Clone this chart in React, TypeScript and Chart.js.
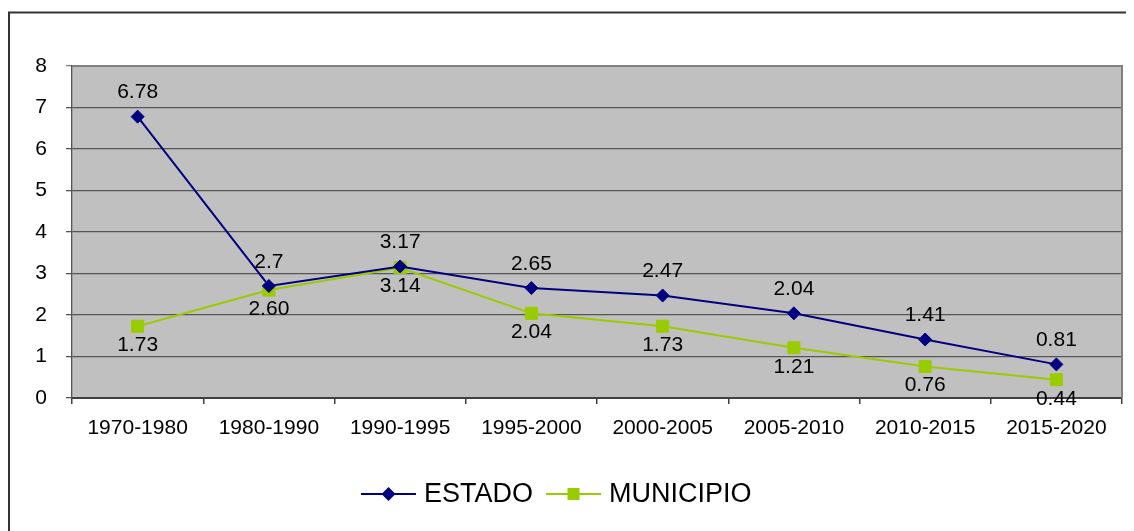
import React, { useEffect, useRef } from 'react';
import { Chart, registerables } from 'chart.js';

Chart.register(...registerables);

const categories = ['1970-1980', '1980-1990', '1990-1995', '1995-2000', '2000-2005', '2005-2010', '2010-2015', '2015-2020'];
const estadoValues = [6.78, 2.7, 3.17, 2.65, 2.47, 2.04, 1.41, 0.81];
const municipioValues = [1.73, 2.6, 3.14, 2.04, 1.73, 1.21, 0.76, 0.44];
const estadoLabels = ['6.78', '2.7', '3.17', '2.65', '2.47', '2.04', '1.41', '0.81'];
const municipioLabels = ['1.73', '2.60', '3.14', '2.04', '1.73', '1.21', '0.76', '0.44'];
const yMin = 0;
const yMax = 8;
const yStep = 1;

const FONT = '"Liberation Sans", Arial, sans-serif';

export default function App() {
  const ref = useRef<HTMLCanvasElement | null>(null);

  useEffect(() => {
    document.body.style.overflow = 'hidden';
    const canvas = ref.current;
    if (!canvas) return;

    const bgPlugin = {
      id: 'bgPlugin',
      beforeDraw(chart: any) {
        const { ctx, chartArea: a } = chart;
        ctx.save();
        ctx.strokeStyle = '#333333';
        ctx.lineWidth = 2;
        ctx.beginPath();
        ctx.moveTo(chart.width, 4.5);
        ctx.lineTo(1, 4.5);
        ctx.lineTo(1, chart.height);
        ctx.stroke();
        ctx.fillStyle = '#C0C0C0';
        ctx.fillRect(a.left, a.top, a.right - a.left, a.bottom - a.top);
        ctx.restore();
      },
      beforeDatasetsDraw(chart: any) {
        const { ctx, chartArea: a } = chart;
        ctx.save();
        ctx.strokeStyle = '#808080';
        ctx.lineWidth = 2;
        ctx.beginPath();
        ctx.moveTo(a.left, a.top);
        ctx.lineTo(a.right, a.top);
        ctx.lineTo(a.right, a.bottom);
        ctx.stroke();
        ctx.restore();
      },
    };

    const labelPlugin = {
      id: 'labelPlugin',
      afterDatasetsDraw(chart: any) {
        const { ctx } = chart;
        ctx.save();
        ctx.font = `21px ${FONT}`;
        ctx.fillStyle = '#000000';
        ctx.textAlign = 'center';
        ctx.textBaseline = 'middle';
        const sets = [
          { labels: estadoLabels, dy: -24 },
          { labels: municipioLabels, dy: 19 },
        ];
        sets.forEach((s, i) => {
          const meta = chart.getDatasetMeta(i);
          meta.data.forEach((pt: any, j: number) => {
            ctx.fillText(s.labels[j], pt.x, pt.y + s.dy);
          });
        });
        ctx.restore();
      },
    };

    const legendPlugin = {
      id: 'legendPlugin',
      afterDraw(chart: any) {
        const { ctx } = chart;
        ctx.save();
        ctx.font = `27px ${FONT}`;
        ctx.textBaseline = 'middle';
        ctx.textAlign = 'left';
        const y = chart.chartArea.bottom + 96;
        let x = 353;
        const lineLen = 55;
        chart.data.datasets.forEach((ds: any) => {
          ctx.strokeStyle = ds.borderColor;
          ctx.lineWidth = 2;
          ctx.beginPath();
          ctx.moveTo(x, y);
          ctx.lineTo(x + lineLen, y);
          ctx.stroke();
          const cx = x + lineLen / 2;
          ctx.fillStyle = ds.pointBackgroundColor;
          ctx.beginPath();
          if (ds.pointStyle === 'rectRot') {
            const r = 7;
            ctx.moveTo(cx, y - r);
            ctx.lineTo(cx + r, y);
            ctx.lineTo(cx, y + r);
            ctx.lineTo(cx - r, y);
            ctx.closePath();
          } else {
            const h = 6;
            ctx.rect(cx - h, y - h, 2 * h, 2 * h);
          }
          ctx.fill();
          ctx.fillStyle = '#000000';
          const tx = x + lineLen + 8;
          ctx.fillText(ds.label, tx, y + 1);
          x = tx + ctx.measureText(ds.label).width + 13;
        });
        ctx.restore();
      },
    };

    const chart = new Chart(canvas, {
      type: 'line',
      data: {
        labels: categories,
        datasets: [
          {
            label: 'ESTADO',
            data: estadoValues,
            borderColor: '#000080',
            backgroundColor: '#000080',
            pointBackgroundColor: '#000080',
            pointBorderColor: '#000080',
            borderWidth: 2,
            pointStyle: 'rectRot',
            pointRadius: 6.5,
            pointBorderWidth: 1,
            tension: 0,
          },
          {
            label: 'MUNICIPIO',
            data: municipioValues,
            borderColor: '#99CC00',
            backgroundColor: '#99CC00',
            pointBackgroundColor: '#99CC00',
            pointBorderColor: '#99CC00',
            borderWidth: 2,
            pointStyle: 'rect',
            pointRadius: 8.5,
            pointBorderWidth: 1,
            tension: 0,
          },
        ],
      },
      options: {
        responsive: false,
        animation: false,
        layout: { padding: { top: 58, left: 0, right: 12, bottom: 93 } },
        plugins: {
          legend: { display: false },
          tooltip: { enabled: false },
          title: { display: false },
        },
        scales: {
          x: {
            offset: true,
            afterFit: (scale: any) => {
              scale.height = 40;
            },
            grid: {
              offset: true,
              drawOnChartArea: false,
              drawTicks: true,
              tickLength: 6,
              color: '#404040',
              lineWidth: 1.5,
            },
            border: { color: '#404040', width: 2 },
            ticks: {
              color: '#000000',
              font: { family: FONT, size: 21 },
              padding: 12,
              maxRotation: 0,
              autoSkip: false,
            },
          },
          y: {
            min: yMin,
            max: yMax,
            afterFit: (scale: any) => {
              scale.width = 64;
            },
            grid: {
              color: (c: any) => (c.tick && c.tick.value === yMax ? '#808080' : '#555555'),
              lineWidth: 1.3,
              tickLength: 6,
              drawTicks: true,
            },
            border: { color: '#555555', width: 1.3 },
            ticks: {
              stepSize: yStep,
              color: '#000000',
              font: { family: FONT, size: 21 },
              padding: 19,
            },
          },
        },
      },
      plugins: [bgPlugin, labelPlugin, legendPlugin],
    });

    return () => {
      chart.destroy();
    };
  }, []);

  return (
    <div style={{ width: 1126, height: 523 }}>
      <canvas ref={ref} width={1126} height={523} style={{ display: 'block' }} />
    </div>
  );
}
